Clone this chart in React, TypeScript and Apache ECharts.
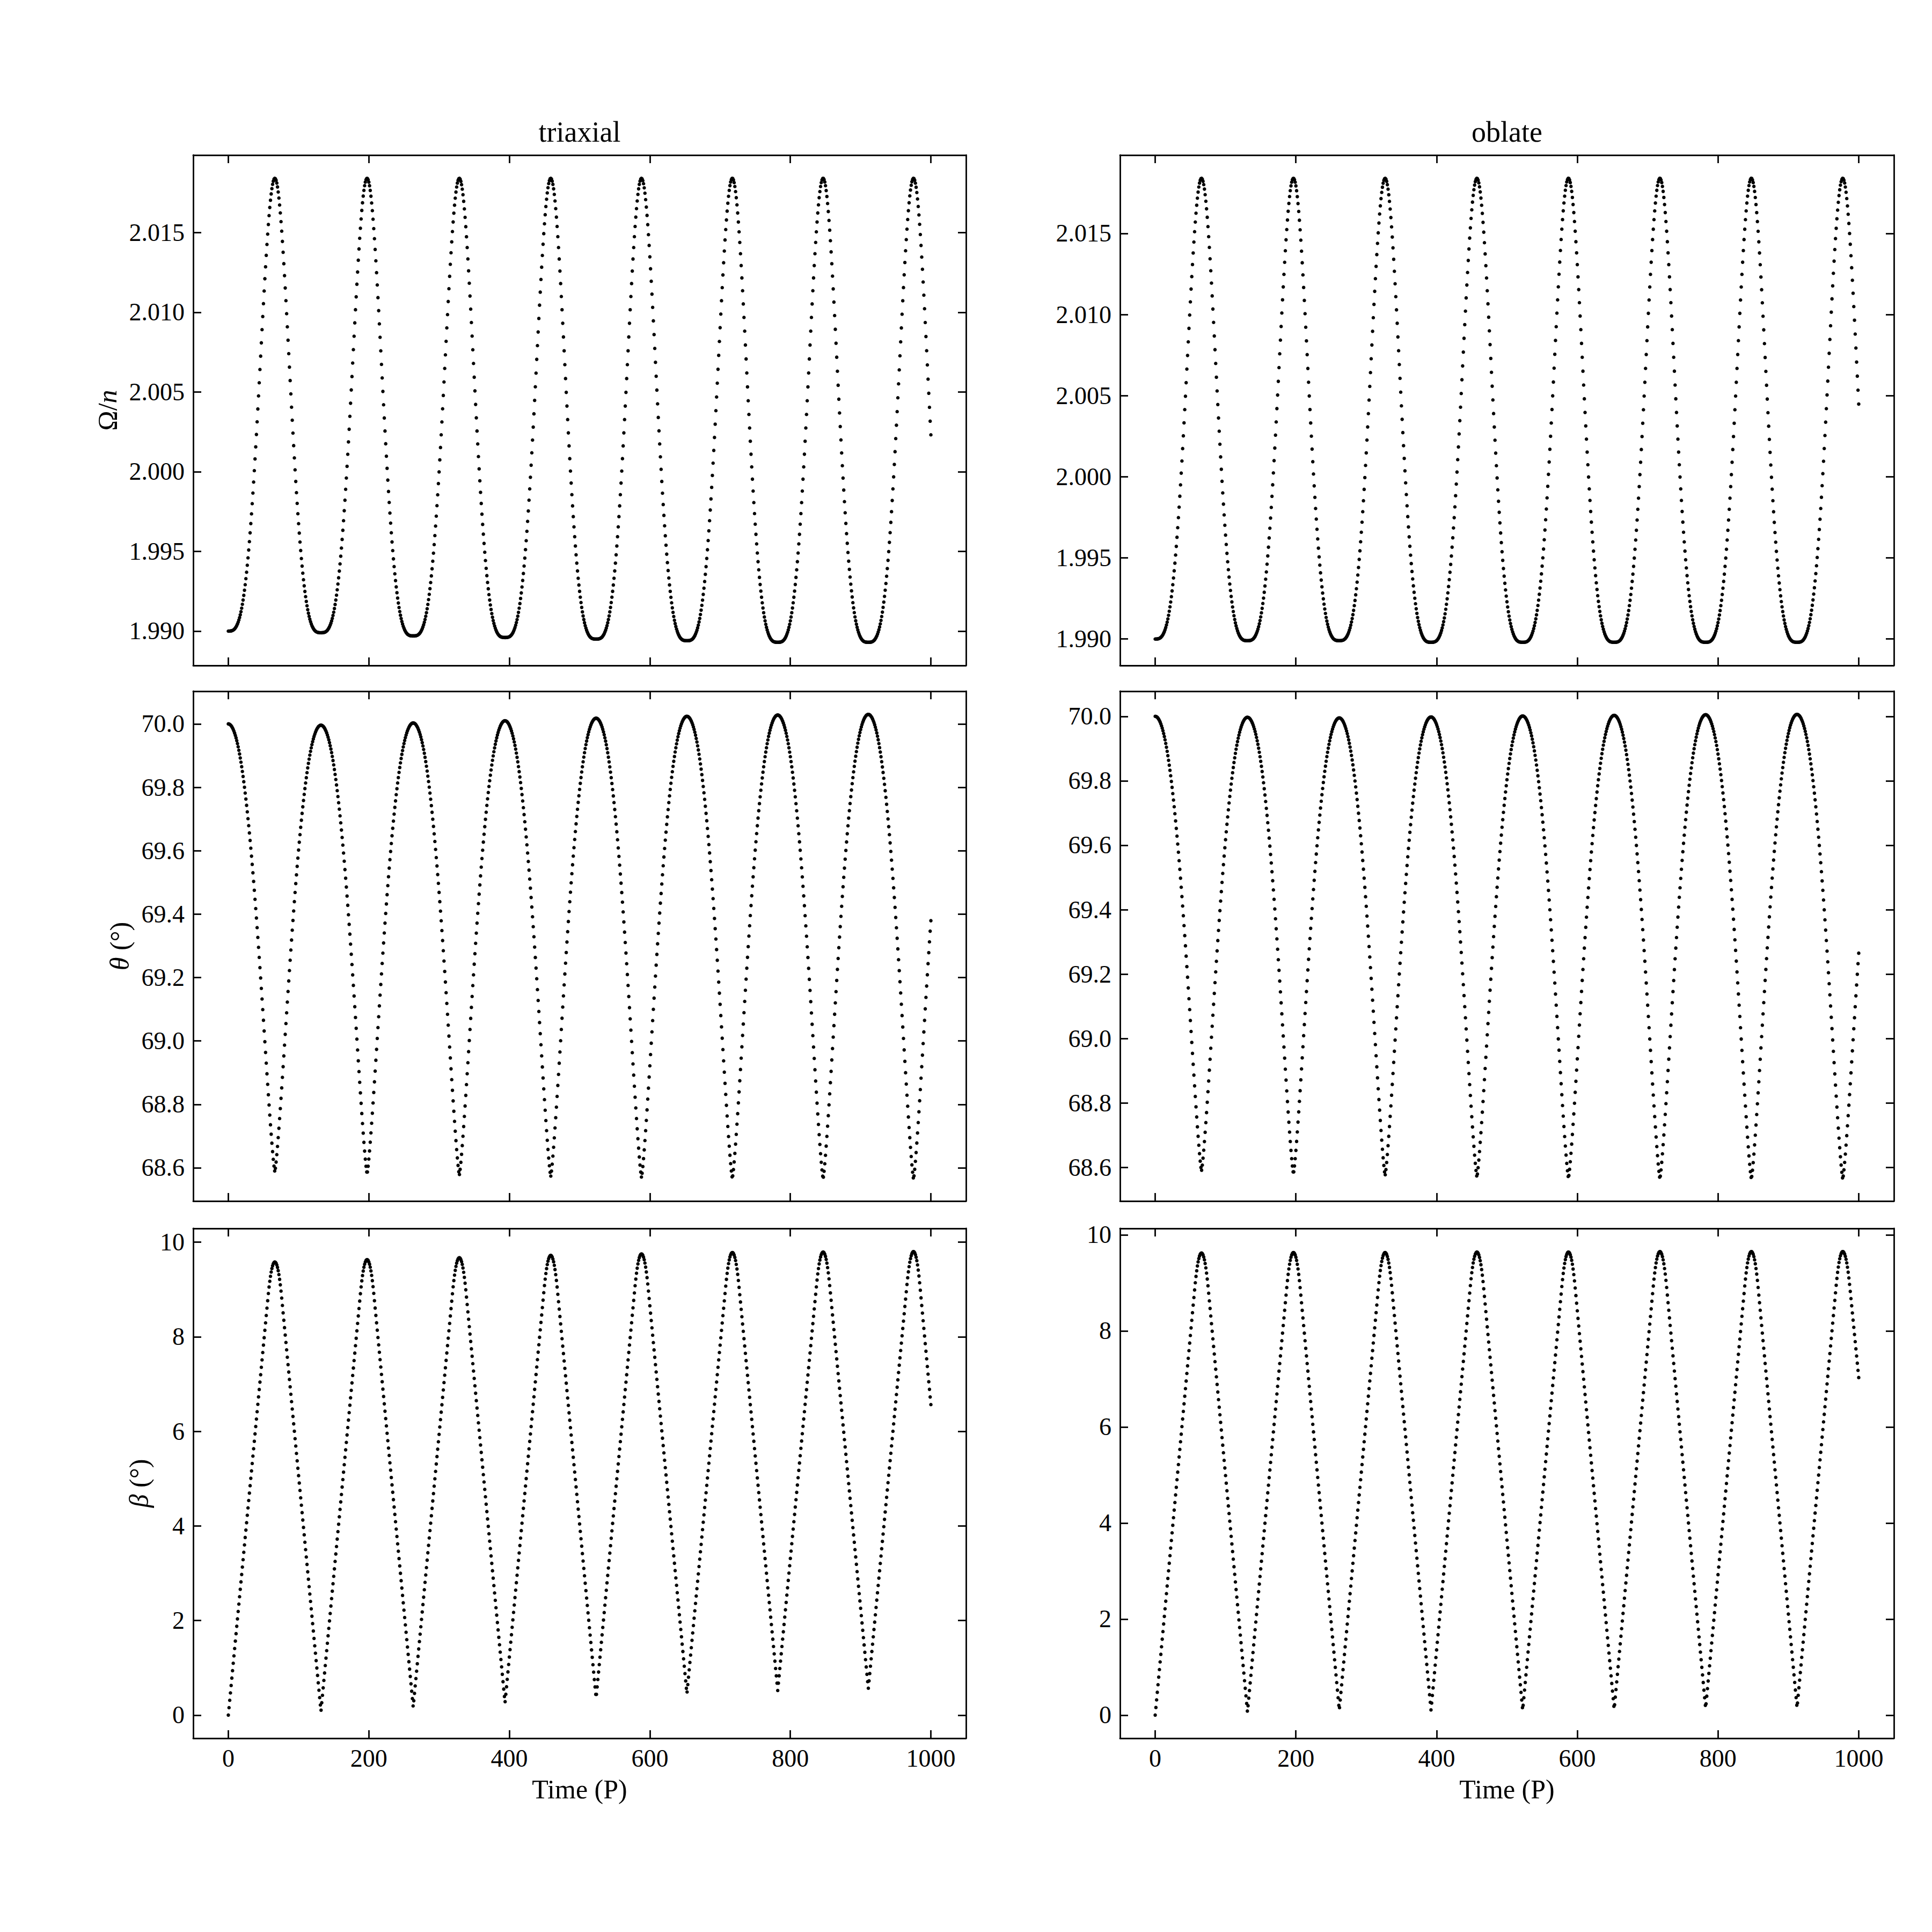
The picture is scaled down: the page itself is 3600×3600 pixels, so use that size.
import React, { useEffect, useRef } from "react";
import * as echarts from "echarts";

const SERIF = '"Liberation Serif", "DejaVu Serif", serif';

// ---- time sampling (units of P) ----
const TIME_START = 0;
const TIME_END = 1000;
const TIME_STEP = 1;
const TIME_TICKS = [0, 200, 400, 600, 800, 1000];

// ---- tick values ----
const OMEGA_TICKS = [1.99, 1.995, 2.0, 2.005, 2.01, 2.015];
const THETA_TICKS = [68.6, 68.8, 69.0, 69.2, 69.4, 69.6, 69.8, 70.0];
const BETA_TICKS = [0, 2, 4, 6, 8, 10];

// ---- triaxial: times and values of successive extrema ----
// (last entry lies just beyond t = 1000 and only fixes the final partial swing)
const TRI_OMEGA_T = [0, 66.2, 131.85, 197.5, 263.15, 328.8, 393.85, 458.9, 523.5, 588.1, 652.75, 717.4, 782.0, 846.6, 910.95, 975.3, 1039];
const TRI_OMEGA_V = [1.99, 2.0184, 1.9899, 2.0184, 1.9897, 2.0184, 1.9896, 2.0184, 1.9895, 2.0184, 1.9894, 2.0184, 1.9893, 2.0184, 1.9893, 2.0184, 1.9892];

const TRI_THETA_T = [0, 66.2, 131.85, 197.5, 263.15, 328.8, 393.85, 458.9, 523.5, 588.1, 652.75, 717.4, 782.0, 846.6, 910.95, 975.3, 1039];
const TRI_THETA_V = [70.0, 68.588, 69.996, 68.581, 70.003, 68.577, 70.01, 68.573, 70.018, 68.57, 70.024, 68.567, 70.028, 68.566, 70.03, 68.565, 70.032];

const TRI_BETA_T = [0, 66.2, 131.85, 197.5, 263.15, 328.8, 393.85, 458.9, 523.5, 588.1, 652.75, 717.4, 782.0, 846.6, 910.95, 975.3, 1037];
const TRI_BETA_V = [0, 9.58, 0.08, 9.63, 0.17, 9.67, 0.26, 9.72, 0.36, 9.75, 0.45, 9.78, 0.52, 9.79, 0.56, 9.8, 0.6];

// ---- oblate ----
const OBL_OMEGA_T = [0, 65.8, 131.15, 196.5, 261.65, 326.8, 392.05, 457.3, 522.35, 587.4, 652.4, 717.4, 782.4, 847.4, 912.35, 977.3, 1041.5];
const OBL_OMEGA_V = [1.99, 2.0184, 1.9899, 2.0184, 1.9899, 2.0184, 1.9898, 2.0184, 1.9898, 2.0184, 1.9898, 2.0184, 1.9898, 2.0184, 1.9898, 2.0184, 1.9898];

const OBL_THETA_T = [0, 65.8, 131.15, 196.5, 261.65, 326.8, 392.05, 457.3, 522.35, 587.4, 652.4, 717.4, 782.4, 847.4, 912.35, 977.3, 1044];
const OBL_THETA_V = [70.0, 68.59, 69.997, 68.581, 69.995, 68.576, 69.998, 68.571, 70.001, 68.568, 70.003, 68.566, 70.005, 68.565, 70.006, 68.565, 70.006];

const OBL_BETA_T = [0, 65.8, 131.15, 196.5, 261.65, 326.8, 392.05, 457.3, 522.35, 587.4, 652.4, 717.4, 782.4, 847.4, 912.35, 977.3, 1046];
const OBL_BETA_V = [0, 9.62, 0.06, 9.63, 0.1, 9.63, 0.1, 9.64, 0.1, 9.64, 0.12, 9.65, 0.14, 9.65, 0.15, 9.65, 0.15];

// ---- swing shapes between extrema (s = 0 at the low end, 1 at the high end) ----
const cosPow = (p: number) => (s: number) =>
  (1 - Math.cos(Math.PI * Math.pow(Math.max(0, Math.min(1, s)), p))) / 2;
const linCap = (w: number) => {
  const k = 1 / (1 - w / 2);
  return (s: number) => (s <= 1 - w ? k * s : 1 - (k * (1 - s) * (1 - s)) / (2 * w));
};

function sample(ts: number[], vs: number[], shape: (s: number) => number): number[][] {
  const pts: number[][] = [];
  let i = 0;
  for (let t = TIME_START; t <= TIME_END + 1e-9; t += TIME_STEP) {
    while (i < ts.length - 2 && t > ts[i + 1]) i++;
    const t0 = ts[i], t1 = ts[i + 1], v0 = vs[i], v1 = vs[i + 1];
    const lowFirst = v0 < v1;
    const tl = lowFirst ? t0 : t1;
    const th = lowFirst ? t1 : t0;
    const vl = Math.min(v0, v1);
    const vh = Math.max(v0, v1);
    const s = (t - tl) / (th - tl);
    pts.push([t, vl + (vh - vl) * shape(s)]);
  }
  return pts;
}

function padded(pts: number[][]) {
  let lo = Infinity, hi = -Infinity;
  for (const p of pts) { lo = Math.min(lo, p[1]); hi = Math.max(hi, p[1]); }
  const m = (hi - lo) * 0.05;
  return [lo - m, hi + m];
}

const GRID_LEFT = [360, 2087];
const GRID_WIDTH = [1440, 1442];
const GRID_TOP = [289, 1288, 2289];
const GRID_HEIGHT = [951, 950, 950];

export default function App() {
  const ref = useRef<HTMLDivElement>(null);

  useEffect(() => {
    document.body.style.margin = "0";
    if (!ref.current) return;
    const chart = echarts.init(ref.current, null, { renderer: "svg" });

    const panels = [
      { row: 0, col: 0, data: sample(TRI_OMEGA_T, TRI_OMEGA_V, cosPow(1.55)), ticks: OMEGA_TICKS, dec: 3 },
      { row: 1, col: 0, data: sample(TRI_THETA_T, TRI_THETA_V, cosPow(0.66)), ticks: THETA_TICKS, dec: 1 },
      { row: 2, col: 0, data: sample(TRI_BETA_T, TRI_BETA_V, linCap(0.15)), ticks: BETA_TICKS, dec: 0 },
      { row: 0, col: 1, data: sample(OBL_OMEGA_T, OBL_OMEGA_V, cosPow(1.55)), ticks: OMEGA_TICKS, dec: 3 },
      { row: 1, col: 1, data: sample(OBL_THETA_T, OBL_THETA_V, cosPow(0.66)), ticks: THETA_TICKS, dec: 1 },
      { row: 2, col: 1, data: sample(OBL_BETA_T, OBL_BETA_V, linCap(0.15)), ticks: BETA_TICKS, dec: 0 },
    ];

    const lineStyle = { color: "#000", width: 2.8 };
    const grids: any[] = [];
    const xAxes: any[] = [];
    const yAxes: any[] = [];
    const series: any[] = [];

    panels.forEach((p, i) => {
      grids.push({
        left: GRID_LEFT[p.col],
        top: GRID_TOP[p.row],
        width: GRID_WIDTH[p.col],
        height: GRID_HEIGHT[p.row],
        containLabel: false,
      });
      const [ymin, ymax] = padded(p.data);
      const xBase = {
        type: "value",
        gridIndex: i,
        min: -50,
        max: 1050,
        splitLine: { show: false },
        axisLine: { show: true, onZero: false, lineStyle },
        axisTick: { show: true, inside: true, length: 15, lineStyle, customValues: TIME_TICKS },
      };
      xAxes.push({
        ...xBase,
        position: "bottom",
        axisLabel: {
          show: p.row === 2,
          customValues: TIME_TICKS,
          margin: 14,
          color: "#000",
          fontFamily: SERIF,
          fontSize: 46,
          formatter: (v: number) => String(Math.round(v)),
        },
      });
      xAxes.push({ ...xBase, position: "top", axisLabel: { show: false } });
      const yBase = {
        type: "value",
        gridIndex: i,
        min: ymin,
        max: ymax,
        splitLine: { show: false },
        axisLine: { show: true, onZero: false, lineStyle },
        axisTick: { show: true, inside: true, length: 15, lineStyle, customValues: p.ticks },
      };
      yAxes.push({
        ...yBase,
        position: "left",
        axisLabel: {
          show: true,
          customValues: p.ticks,
          margin: 16,
          color: "#000",
          fontFamily: SERIF,
          fontSize: 46,
          formatter: (v: number) => Number(v).toFixed(p.dec),
        },
      });
      yAxes.push({ ...yBase, position: "right", axisLabel: { show: false } });
      series.push({
        type: "scatter",
        xAxisIndex: 2 * i,
        yAxisIndex: 2 * i,
        data: p.data,
        symbol: "circle",
        symbolSize: 6.5,
        itemStyle: { color: "#000", opacity: 1 },
        silent: true,
        large: false,
        progressive: 0,
      });
    });

    const txt = (text: string, x: number, y: number, size: number, extra: any = {}) => ({
      type: "text",
      x,
      y,
      ...extra,
      style: {
        text,
        fill: "#000",
        fontFamily: SERIF,
        fontSize: size,
        align: "center",
        verticalAlign: "middle",
        textAlign: "center",
        textVerticalAlign: "middle",
        ...(extra.style || {}),
      },
    });

    const rich = {
      r: { fontFamily: SERIF, fontSize: 50, fill: "#000", color: "#000" },
      i: { fontFamily: SERIF, fontSize: 50, fontStyle: "italic", fill: "#000", color: "#000" },
    };
    const yCenter = (row: number) => GRID_TOP[row] + GRID_HEIGHT[row] / 2;
    const xCenter = (col: number) => GRID_LEFT[col] + GRID_WIDTH[col] / 2;

    const graphic: any[] = [
      txt("triaxial", xCenter(0), 246, 54),
      txt("oblate", xCenter(1), 246, 54),
      txt("Time (P)", xCenter(0), 3334, 50),
      txt("Time (P)", xCenter(1), 3334, 50),
      txt("{r|Ω/}{i|n}", 200, yCenter(0), 50, { rotation: Math.PI / 2, style: { rich } }),
      txt("{i|θ}{r| (°)}", 223, yCenter(1), 50, { rotation: Math.PI / 2, style: { rich } }),
      txt("{i|β}{r| (°)}", 259, yCenter(2), 50, { rotation: Math.PI / 2, style: { rich } }),
    ];

    chart.setOption({
      animation: false,
      backgroundColor: "#fff",
      grid: grids,
      xAxis: xAxes,
      yAxis: yAxes,
      series,
      graphic,
    });

    return () => chart.dispose();
  }, []);

  return <div ref={ref} style={{ width: 3600, height: 3600, background: "#fff" }} />;
}
